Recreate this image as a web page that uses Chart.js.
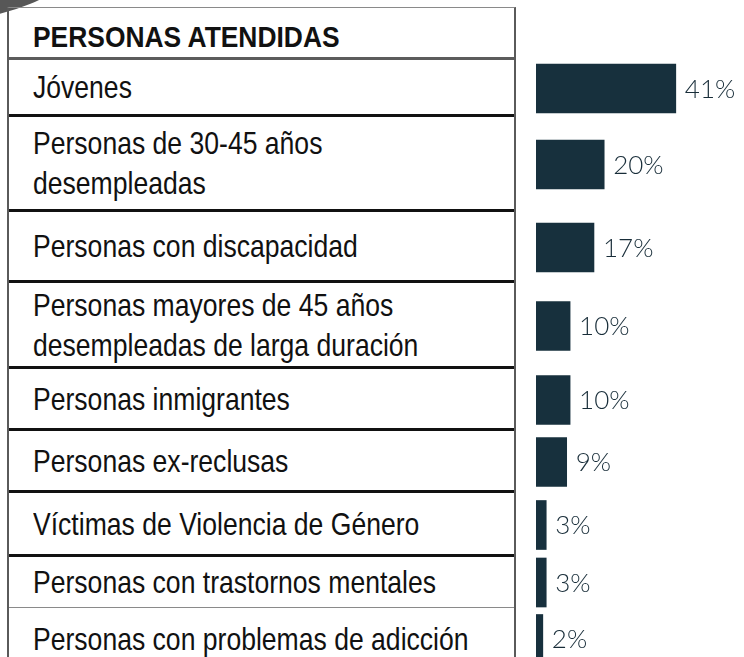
<!DOCTYPE html>
<html lang="es">
<head>
<meta charset="utf-8">
<title>Personas atendidas</title>
<script src="https://cdn.jsdelivr.net/npm/chart.js@4.4.1/dist/chart.umd.min.js"></script>
<style>
  html, body {
    margin: 0;
    padding: 0;
    background: #ffffff;
  }
  body {
    position: relative;
    width: 744px;
    height: 657px;
    overflow: hidden;
  }
  .corner {
    position: absolute;
    left: -246px;
    top: -381px;
    width: 400px;
    height: 400px;
    border-radius: 50%;
    background: #575757;
  }
  #table {
    position: absolute;
    left: 7px;
    top: 7px;
    width: 509px;
    height: 700px;
    box-sizing: border-box;
    border-top: 1px solid #8a8a8a;
    border-left: 2px solid #5a5a5a;
    border-right: 2px solid #5a5a5a;
    font-family: "Liberation Sans", Arial, sans-serif;
    color: #111111;
  }
  .row {
    box-sizing: border-box;
    display: flex;
    flex-direction: column;
    justify-content: center;
    padding-left: 24px;
    font-size: 32px;
    line-height: 40px;
    border-bottom: 3px solid #111111;
  }
  /* narrow the sans face to a condensed look */
  .row span {
    display: block;
    white-space: nowrap;
    transform: scaleX(0.83);
    transform-origin: left center;
  }
  .row.head {
    font-weight: bold;
    font-size: 30px;
    padding-top: 8px;
    border-bottom-color: #5c5c5c;
  }
  .row.head span {
    transform: scaleX(0.88);
  }
  .row.thin {
    border-bottom: 1px solid #8a8a8a;
  }
  .row.last {
    border-bottom: none;
  }
  #chart {
    position: absolute;
    left: 0;
    top: 0;
    pointer-events: none;
  }
</style>
</head>
<body>
<div class="corner"></div>
<div id="table"></div>
<canvas id="chart" width="744" height="657"></canvas>
<script>
const title = "PERSONAS ATENDIDAS";

const categories = [
  ["Jóvenes"],
  ["Personas de 30-45 años", "desempleadas"],
  ["Personas con discapacidad"],
  ["Personas mayores de 45 años", "desempleadas de larga duración"],
  ["Personas inmigrantes"],
  ["Personas ex-reclusas"],
  ["Víctimas de Violencia de Género"],
  ["Personas con trastornos mentales"],
  ["Personas con problemas de adicción"],
];

const values = [41, 20, 17, 10, 10, 9, 3, 3, 2];

// row heights of the table (header first), bottom border included
const rowHeights = [52, 57, 95, 71, 86, 62, 62, 64, 51, 62];

const table = document.getElementById("table");

function addRow(lines, height, cls) {
  const row = document.createElement("div");
  row.className = "row " + cls;
  row.style.height = height + "px";
  lines.forEach((line) => {
    const span = document.createElement("span");
    span.textContent = line;
    row.appendChild(span);
  });
  table.appendChild(row);
  return row;
}

addRow([title], rowHeights[0], "head");

const rows = categories.map((lines, i) => {
  let cls = "";
  if (i === categories.length - 2) cls = "thin";
  if (i === categories.length - 1) cls = "last";
  return addRow(lines, rowHeights[i + 1], cls);
});

// bar centres follow the table rows
const rowCentres = rows.map((row) => {
  const box = row.getBoundingClientRect();
  return box.top + box.height / 2;
});

const valueLabels = {
  id: "valueLabels",
  afterDatasetsDraw(chart) {
    const ctx = chart.ctx;
    const bars = chart.getDatasetMeta(0).data;
    ctx.save();
    ctx.font = "300 26px Lato, 'Open Sans', sans-serif";
    ctx.fillStyle = "#182d39";
    ctx.textAlign = "left";
    ctx.textBaseline = "middle";
    bars.forEach((bar, i) => {
      ctx.fillText(values[i] + "%", bar.x + 9, bar.y + 1);
    });
    ctx.restore();
  },
};

const chart = new Chart("chart", {
  type: "bar",
  data: {
    datasets: [
      {
        data: values.map((v, i) => ({ x: v, y: rowCentres[i] })),
        backgroundColor: "#17303d",
        borderWidth: 0,
        barThickness: 49,
      },
    ],
  },
  options: {
    indexAxis: "y",
    responsive: false,
    animation: false,
    layout: {
      padding: { left: 536, right: 0, top: 0, bottom: 0 },
    },
    scales: {
      x: {
        type: "linear",
        min: 0,
        max: 61,
        display: false,
      },
      y: {
        type: "linear",
        min: 0,
        max: 657,
        reverse: true,
        offset: false,
        display: false,
      },
    },
    plugins: {
      legend: { display: false },
      tooltip: { enabled: false },
    },
  },
  plugins: [valueLabels],
});
</script>
</body>
</html>
